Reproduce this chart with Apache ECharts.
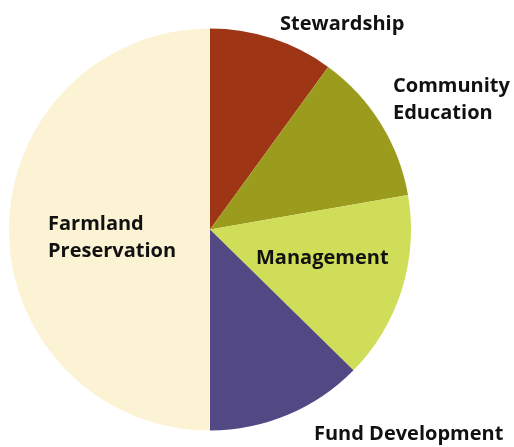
<!DOCTYPE html>
<html>
<head>
<meta charset="utf-8">
<script src="https://cdn.jsdelivr.net/npm/echarts@6/dist/echarts.min.js"></script>
<style>
  html, body { margin: 0; padding: 0; background: #fff; }
  #chart { width: 514px; height: 447px; }
</style>
</head>
<body>
<div id="chart"></div>
<script>
// 各项占比 (%)，从12点方向顺时针
const categories = ['Stewardship', 'Community\nEducation', 'Management', 'Fund Development', 'Farmland\nPreservation'];
const values = [10, 12.25, 15.1, 12.65, 50];
const colors = ['#9E3616', '#9B9C1E', '#CFDD58', '#514884', '#FCF2D4'];

// 标签左上位置 (像素)
const labelPos = {
    'Stewardship': [280, 24],
    'Community\nEducation': [393, 100],
    'Management': [256, 258],
    'Fund Development': [314, 434],
    'Farmland\nPreservation': [48, 238]
};

const myChart = echarts.init(document.getElementById('chart'));

const option = {
    backgroundColor: '#fff',
    animation: false,
    series: [{
        type: 'pie',
        center: [210, 229.5],
        radius: [0, 201],
        startAngle: 90,
        clockwise: true,
        silent: true,
        itemStyle: {
            borderWidth: 0
        },
        label: {
            show: true,
            position: 'inside',
            formatter: '{b}',
            color: '#111',
            fontFamily: 'Open Sans',
            fontWeight: 'bold',
            fontSize: 20,
            lineHeight: 27,
            align: 'left'
        },
        labelLine: {show: false},
        labelLayout: function (params) {
            const name = categories[params.dataIndex];
            const p = labelPos[name];
            return {x: p[0], y: p[1], align: 'left', verticalAlign: 'middle'};
        },
        data: categories.map((c, i) => ({
            name: c,
            value: values[i],
            itemStyle: {color: colors[i]}
        }))
    }]
};
myChart.setOption(option);
</script>
</body>
</html>
